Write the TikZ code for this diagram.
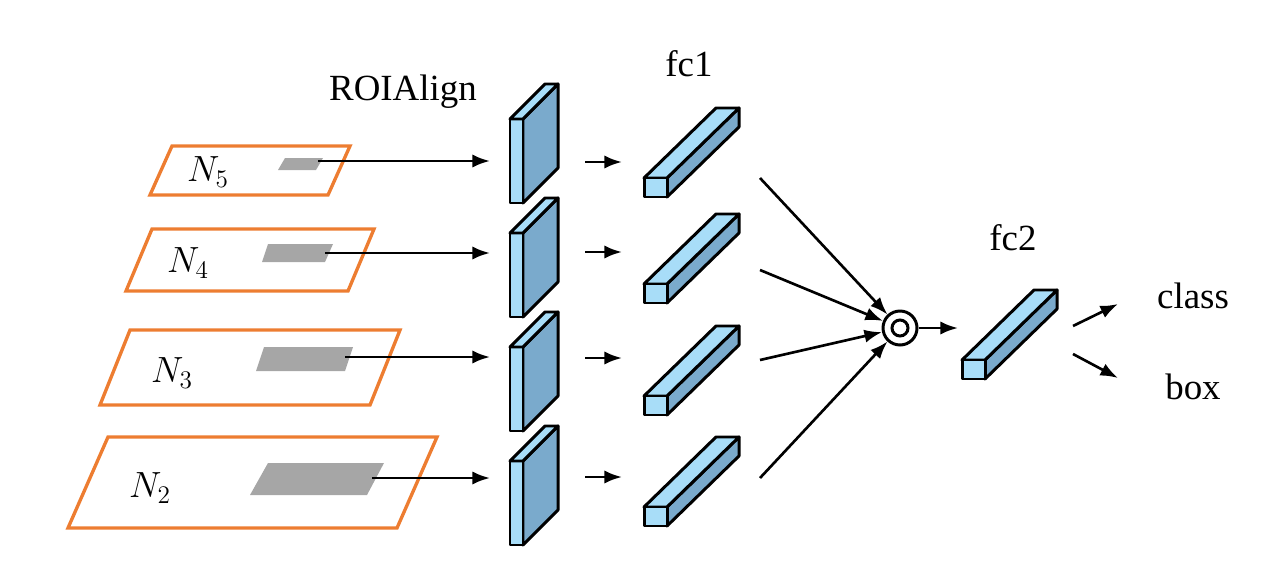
\documentclass[tikz,border=0pt]{standalone}
\usepackage{fontspec}
\usetikzlibrary{arrows.meta}
\setmainfont{Liberation Serif}
\definecolor{lb}{HTML}{A8DDF8}
\definecolor{db}{HTML}{7AAACC}
\definecolor{org}{HTML}{ED7D31}
\definecolor{gr}{HTML}{A6A6A6}
\newcommand\myplate[2]{% x,y of front top-left
  \draw[boxs] (#1+13,#2) -- ++(35,-35) -- ++(0,84) -- ++(-35,35) -- cycle;
  \draw[boxf] (#1,#2) rectangle ++(13,84);
  \draw[boxf] (#1,#2) -- ++(13,0) -- ++(35,-35) -- ++(-13,0) -- cycle;}
\newcommand\mybar[2]{% front top-left
  \draw[boxs] (#1+23,#2) -- ++(72,-70) -- ++(0,19) -- ++(-72,70) -- cycle;
  \draw[boxf] (#1,#2) -- ++(23,0) -- ++(72,-70) -- ++(-23,0) -- cycle;
  \draw[boxf] (#1,#2) rectangle ++(23,19);}
\begin{document}
\begin{tikzpicture}[x=0.02cm,y=-0.02cm,
  box/.style={line width=1.7pt,line join=round},
  boxf/.style={box,fill=lb},
  boxs/.style={box,fill=db},
  lay/.style={draw=org,line width=1.9pt},
  roi/.style={fill=gr},
  arr/.style={-{Latex[length=10pt,width=7.5pt]},line width=1.5pt},
  lbl/.style={font=\fontsize{21}{24}\selectfont},
  nl/.style={font=\fontsize{22}{25}\selectfont}]
\useasboundingbox (0,0) rectangle (1278,561);
% layers
\draw[lay] (172,146) -- (350,146) -- (328,195) -- (150,195) -- cycle;
\draw[lay] (152,229) -- (374,229) -- (348,291) -- (126,291) -- cycle;
\draw[lay] (130,330) -- (400,330) -- (370,405) -- (100,405) -- cycle;
\draw[lay] (108,437) -- (437,437) -- (397,528) -- (68,528) -- cycle;
\fill[roi] (285,158) -- (323,158) -- (316,170) -- (278,170) -- cycle;
\fill[roi] (268,244) -- (333,244) -- (325,262) -- (262,262) -- cycle;
\fill[roi] (264,347) -- (353,347) -- (345,371) -- (256,371) -- cycle;
\fill[roi] (268,463) -- (384,463) -- (367,495) -- (250,495) -- cycle;
\node[nl] (n5) at (208,172) {$N_5$};
\node[nl] (n4) at (188,263) {$N_4$};
\node[nl] (n3) at (172,373) {$N_3$};
\node[nl] (n2) at (150,488) {$N_2$};
% plates and bars
\myplate{510}{119}\myplate{510}{233}\myplate{510}{347}\myplate{510}{461}
\mybar{644}{178}\mybar{644}{284}\mybar{644}{396}\mybar{644}{507}
\mybar{962}{360}
\node[lbl] (roil) at (403,92) {ROIAlign};
\node[lbl] (fc1l) at (689,64) {fc1};
\node[lbl] (fc2l) at (1013,238) {fc2};
\node[lbl] (cls) at (1193,296) {class};
\node[lbl] (bx) at (1193,387) {box};
% circle
\node[circle,draw,line width=1.7pt,minimum size=0.68cm,inner sep=0pt] (op) at (900,328) {};
\draw[line width=1.7pt] (op.center) circle (8);
% connectors
\foreach \i/\y/\x in {5/161/318,4/253/325,3/357/345,2/478/372}{
  \coordinate (s\i) at (\x,\y); \coordinate (t\i) at (490,\y);
  \draw[arr] (s\i) -- (t\i);}
\foreach \i/\y in {5/162,4/252,3/358,2/477}{
  \coordinate (a\i) at (585,\y); \coordinate (b\i) at (622,\y);
  \draw[arr] (a\i) -- (b\i);}
\foreach \i/\y in {5/178,4/270,3/360,2/478}{
  \coordinate (f\i) at (760,\y);
  \draw[arr] (f\i) -- (op);}
\coordinate (g) at (958,328);
\draw[arr] (op) -- (g);
\coordinate (h) at (1073,326); \coordinate (hc) at (1118,304);
\coordinate (k) at (1073,354); \coordinate (kb) at (1118,378);
\draw[arr] (h) -- (hc); \draw[arr] (k) -- (kb);
\end{tikzpicture}
\end{document}
